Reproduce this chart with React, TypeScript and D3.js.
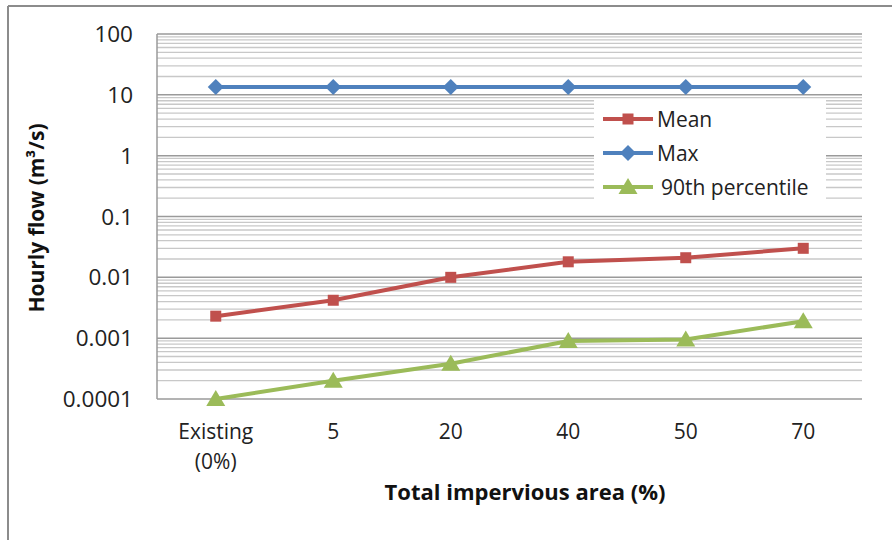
import React from "react";
import * as d3 from "d3";

const categories = ["Existing\n(0%)", "5", "20", "40", "50", "70"];
const meanValues = [0.0023, 0.0042, 0.01, 0.018, 0.021, 0.03];
const maxValues = [13.5, 13.5, 13.5, 13.5, 13.5, 13.5];
const p90Values = [0.0001, 0.0002, 0.00038, 0.0009, 0.00095, 0.0019];
const yTicks = [0.0001, 0.001, 0.01, 0.1, 1, 10, 100];
const yTickLabels = ["0.0001", "0.001", "0.01", "0.1", "1", "10", "100"];

const W = 892;
const H = 540;
const M = { left: 157, right: 862, top: 34, bottom: 399 };
const FONT = "'Open Sans', 'Noto Sans', sans-serif";

export default function App() {
  const x = d3
    .scaleBand<number>()
    .domain(categories.map((_, i) => i))
    .range([M.left, M.right]);
  const y = d3.scaleLog().domain([0.0001, 100]).range([M.bottom, M.top]);
  const cx = (i: number) => (x(i) as number) + x.bandwidth() / 2;

  const minor: number[] = [];
  const major: number[] = [];
  for (let e = -4; e <= 2; e++) {
    major.push(Math.pow(10, e));
    if (e < 2) for (let k = 2; k <= 9; k++) minor.push(k * Math.pow(10, e));
  }

  const line = d3
    .line<number>()
    .x((_, i) => cx(i))
    .y((d) => y(d));

  const series = [
    { name: "Mean", values: meanValues, color: "#C0504D", marker: "square" },
    { name: "Max", values: maxValues, color: "#4F81BD", marker: "diamond" },
    { name: "90th percentile", values: p90Values, color: "#9BBB59", marker: "triangle" },
  ];

  const marker = (type: string, px: number, py: number, color: string, key: string) => {
    if (type === "square")
      return <rect key={key} x={px - 5.5} y={py - 5.5} width={11} height={11} fill={color} />;
    if (type === "diamond")
      return (
        <path
          key={key}
          d={`M${px},${py - 8}L${px + 8},${py}L${px},${py + 8}L${px - 8},${py}Z`}
          fill={color}
        />
      );
    return (
      <path
        key={key}
        d={`M${px},${py - 9}L${px + 9.5},${py + 7}L${px - 9.5},${py + 7}Z`}
        fill={color}
      />
    );
  };

  const legendX = 594;
  const legendY = 100;
  const legendRows = [119, 153, 187];
  const legendOrder = [0, 1, 2];

  return (
    <svg width={W} height={H} style={{ position: "absolute", left: 0, top: 0 }}>
      <rect x={0} y={0} width={W} height={H} fill="#fff" />
      <line x1={8} y1={6} x2={W} y2={6} stroke="#8c8c8c" strokeWidth={2} />
      <line x1={8} y1={6} x2={8} y2={H} stroke="#8c8c8c" strokeWidth={2} />

      {minor.map((v, i) => (
        <line
          key={"mn" + i}
          x1={M.left}
          x2={M.right}
          y1={y(v)}
          y2={y(v)}
          stroke="#c8c8c8"
          strokeWidth={1.3}
        />
      ))}
      {major.map((v, i) => (
        <line
          key={"mj" + i}
          x1={M.left}
          x2={M.right}
          y1={y(v)}
          y2={y(v)}
          stroke="#9a9a9a"
          strokeWidth={1.5}
        />
      ))}
      <line x1={M.left} x2={M.left} y1={M.top} y2={M.bottom} stroke="#9a9a9a" strokeWidth={1.5} />

      {yTicks.map((v, i) => (
        <text
          key={"yt" + i}
          x={133}
          y={y(v)}
          dy="0.36em"
          textAnchor="end"
          fontFamily={FONT}
          fontSize={22.5}
          fill="#222"
        >
          {yTickLabels[i]}
        </text>
      ))}

      {categories.map((c, i) => (
        <text
          key={"xt" + i}
          x={cx(i)}
          y={439}
          textAnchor="middle"
          fontFamily={FONT}
          fontSize={21}
          fill="#222"
        >
          {c.split("\n").map((s, j) => (
            <tspan key={j} x={cx(i)} dy={j === 0 ? 0 : 30}>
              {s}
            </tspan>
          ))}
        </text>
      ))}

      <text
        x={525}
        y={500}
        textAnchor="middle"
        fontFamily={FONT}
        fontSize={22}
        fontWeight="bold"
        fill="#111"
      >
        Total impervious area (%)
      </text>
      <text
        transform="translate(44,218) rotate(-90)"
        textAnchor="middle"
        fontFamily={FONT}
        fontSize={21}
        fontWeight="bold"
        fill="#111"
      >
        Hourly flow (m³/s)
      </text>

      {series.map((s) => (
        <g key={s.name}>
          <path d={line(s.values) || ""} fill="none" stroke={s.color} strokeWidth={4} />
          {s.values.map((v, i) => marker(s.marker, cx(i), y(v), s.color, s.name + i))}
        </g>
      ))}

      <rect x={legendX} y={legendY} width={232} height={101} fill="#fff" />
      {legendOrder.map((si, r) => {
        const s = series[si];
        const ly = legendRows[r];
        return (
          <g key={"lg" + s.name}>
            <line x1={603} x2={653} y1={ly} y2={ly} stroke={s.color} strokeWidth={4} />
            {marker(s.marker, 628, ly, s.color, "lm" + s.name)}
            <text
              x={s.marker === "triangle" ? 661 : 657}
              y={ly}
              dy="0.36em"
              fontFamily={FONT}
              fontSize={21}
              fill="#222"
            >
              {s.name}
            </text>
          </g>
        );
      })}
    </svg>
  );
}
